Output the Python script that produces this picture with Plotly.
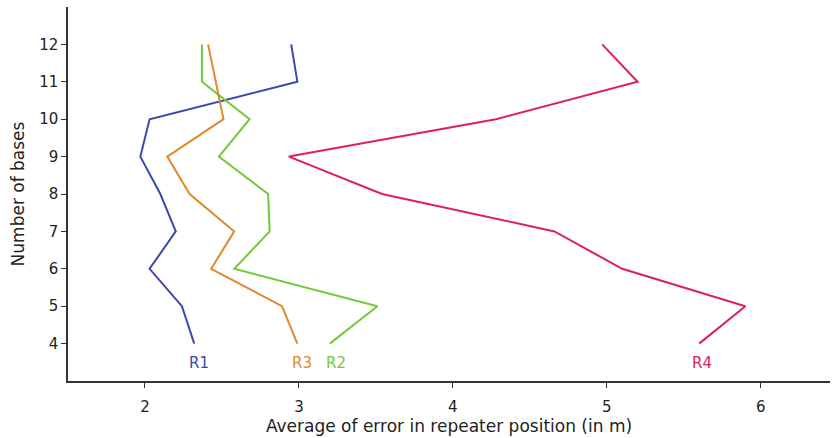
import plotly.graph_objects as go

bases = [4, 5, 6, 7, 8, 9, 10, 11, 12]
r1 = [2.32, 2.24, 2.03, 2.20, 2.10, 1.97, 2.03, 2.99, 2.95]
r2 = [3.20, 3.51, 2.58, 2.81, 2.80, 2.48, 2.68, 2.37, 2.37]
r3 = [2.99, 2.89, 2.43, 2.58, 2.29, 2.145, 2.51, 2.46, 2.41]
r4 = [5.60, 5.90, 5.10, 4.66, 3.54, 2.935, 4.28, 5.20, 4.97]

names = ["R1", "R2", "R3", "R4"]
series = [r1, r2, r3, r4]
colors = ["#3b48b0", "#74c93a", "#df8a2c", "#dc215c"]
label_x = [2.35, 3.24, 3.02, 5.62]
label_y = 3.47

fig = go.Figure()
for name, vals, col in zip(names, series, colors):
    fig.add_trace(go.Scatter(x=vals, y=bases, mode="lines", name=name,
                             line=dict(color=col, width=2), showlegend=False))
for name, lx, col in zip(names, label_x, colors):
    fig.add_annotation(x=lx, y=label_y, text=name, showarrow=False,
                       font=dict(color=col, size=15, family="DejaVu Sans"))

fig.update_layout(
    width=835, height=438,
    margin=dict(l=68, r=5, t=7, b=57),
    plot_bgcolor="white", paper_bgcolor="white",
    font=dict(family="DejaVu Sans", size=15, color="#222"),
)
fig.update_xaxes(range=[1.5, 6.45], tickvals=[2, 3, 4, 5, 6], showgrid=False,
                 zeroline=False, showline=True, linecolor="#333", linewidth=1.5,
                 ticks="outside", ticklen=5, tickcolor="#333",
                 tickfont=dict(size=15), ticklabelstandoff=6,
                 title=dict(text="Average of error in repeater position (in m)",
                            font=dict(size=17), standoff=2))
fig.update_yaxes(range=[3, 13], tickvals=list(range(4, 13)), showgrid=False,
                 zeroline=False, showline=True, linecolor="#333", linewidth=1.5,
                 ticks="outside", ticklen=5, tickcolor="#333",
                 tickfont=dict(size=15),
                 title=dict(text="Number of bases", font=dict(size=17), standoff=10))

fig.write_html("out.html")
